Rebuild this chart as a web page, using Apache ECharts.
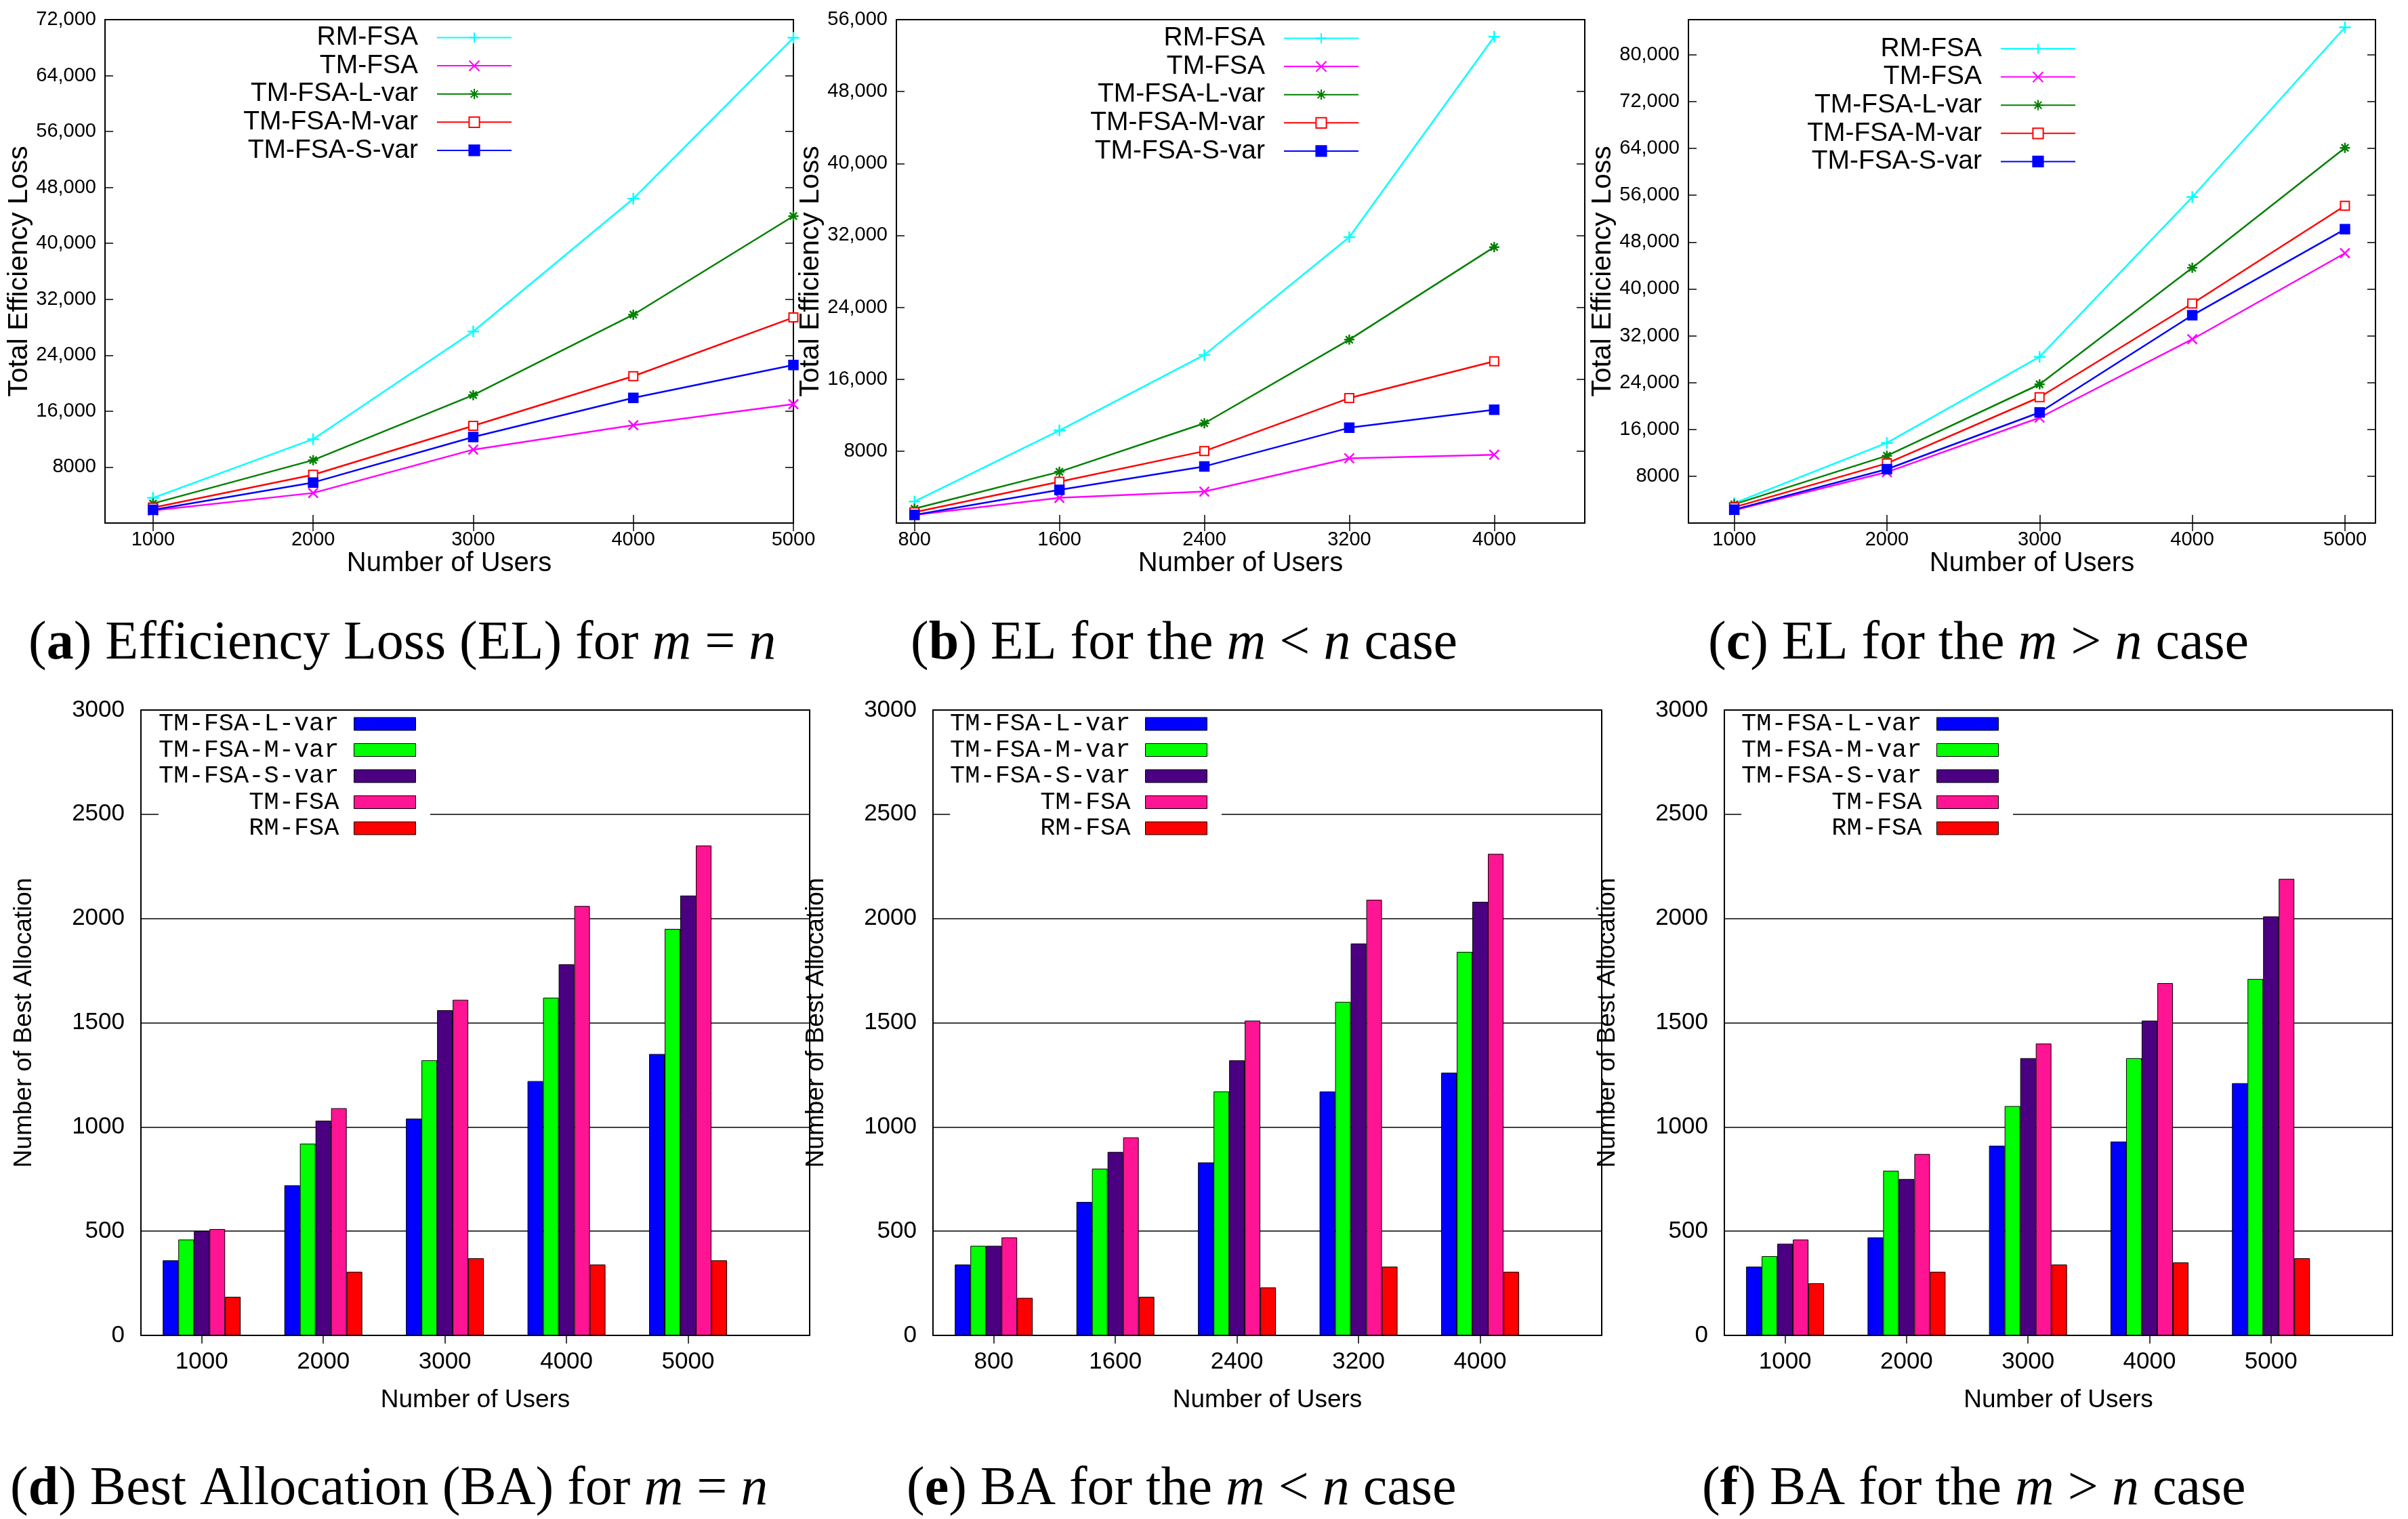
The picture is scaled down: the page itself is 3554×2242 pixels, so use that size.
<!DOCTYPE html>
<html><head><meta charset="utf-8">
<script src="https://cdn.jsdelivr.net/npm/echarts@6/dist/echarts.min.js"></script>
<style>html,body{margin:0;padding:0;background:#fff;} #c{width:3554px;height:2242px;}</style>
</head><body><div id="c"></div>
<script>
// ---------- DATA ----------
const usersA = [1000, 2000, 3000, 4000, 5000];
const usersB = [800, 1600, 2400, 3200, 4000];
const usersC = [1000, 2000, 3000, 4000, 5000];
const lineNames = ['RM-FSA', 'TM-FSA', 'TM-FSA-L-var', 'TM-FSA-M-var', 'TM-FSA-S-var'];

// (a) Efficiency loss, m = n
const elA_RM = [3600, 12000, 27400, 46400, 69400];
const elA_TM = [1800, 4300, 10500, 14000, 17000];
const elA_L  = [2800, 9000, 18300, 29800, 43900];
const elA_M  = [2200, 6900, 13900, 21000, 29400];
const elA_S  = [1900, 5800, 12300, 17900, 22600];
// (b) Efficiency loss, m < n
const elB_RM = [2400, 10300, 18700, 31800, 54100];
const elB_TM = [900, 2800, 3500, 7200, 7600];
const elB_L  = [1600, 5700, 11100, 20400, 30700];
const elB_M  = [1200, 4600, 8000, 13900, 18000];
const elB_S  = [900, 3700, 6300, 10600, 12600];
// (c) Efficiency loss, m > n
const elC_RM = [3400, 13700, 28400, 55700, 84700];
const elC_TM = [2200, 8700, 18000, 31400, 46100];
const elC_L  = [3200, 11500, 23700, 43600, 64100];
const elC_M  = [2700, 10200, 21500, 37500, 54200];
const elC_S  = [2300, 9200, 18900, 35500, 50200];

const yTicksA = [8000, 16000, 24000, 32000, 40000, 48000, 56000, 64000, 72000];
const yTicksB = [8000, 16000, 24000, 32000, 40000, 48000, 56000];
const yTicksC = [8000, 16000, 24000, 32000, 40000, 48000, 56000, 64000, 72000, 80000];

const barNames = ['TM-FSA-L-var', 'TM-FSA-M-var', 'TM-FSA-S-var', 'TM-FSA', 'RM-FSA'];
const catsD = ['1000', '2000', '3000', '4000', '5000'];
const catsE = ['800', '1600', '2400', '3200', '4000'];
const catsF = ['1000', '2000', '3000', '4000', '5000'];
// (d) Best allocation, m = n
const baD_L  = [360, 720, 1040, 1220, 1350];
const baD_M  = [460, 920, 1320, 1620, 1950];
const baD_S  = [500, 1030, 1560, 1780, 2110];
const baD_TM = [510, 1090, 1610, 2060, 2350];
const baD_RM = [185, 305, 370, 340, 360];
// (e) Best allocation, m < n
const baE_L  = [340, 640, 830, 1170, 1260];
const baE_M  = [430, 800, 1170, 1600, 1840];
const baE_S  = [430, 880, 1320, 1880, 2080];
const baE_TM = [470, 950, 1510, 2090, 2310];
const baE_RM = [180, 185, 230, 330, 305];
// (f) Best allocation, m > n
const baF_L  = [330, 470, 910, 930, 1210];
const baF_M  = [380, 790, 1100, 1330, 1710];
const baF_S  = [440, 750, 1330, 1510, 2010];
const baF_TM = [460, 870, 1400, 1690, 2190];
const baF_RM = [250, 305, 340, 350, 370];
const baTicks = [0, 500, 1000, 1500, 2000, 2500, 3000];

// ---------- STYLE ----------
const SANS = "'Liberation Sans', Arial, Helvetica, sans-serif";
const MONO = "'Liberation Mono', 'DejaVu Sans Mono', monospace";
const SERIF = "'Liberation Serif', 'Times New Roman', serif";
const lineColors = ['#00ffff', '#ff00ff', '#008000', '#ff0000', '#0000ff'];
const PLUS = 'path://M5,0L5,10M0,5L10,5';
const CROSS = 'path://M0,0L10,10M0,10L10,0';
const STAR = 'path://M5,0L5,10M0,5L10,5M1.5,1.5L8.5,8.5M1.5,8.5L8.5,1.5';
const lineSymbols = [PLUS, CROSS, STAR, 'emptyRect', 'rect'];
const lineSymbolSizes = [17, 14, 15, 13, 13];
const barColors = ['#0000ff', '#00ff00', '#4b0082', '#ff1493', '#ff0000'];

const W = 3554;
const grids = [], xAxes = [], yAxes = [], series = [], legends = [];
const fmtNum = v => v === 8000 ? '8000' : String(v).replace(/\B(?=(\d{3})+(?!\d))/g, ',');
const plain = v => String(v);
const strip = n => n.split('#')[1];

function addLineChart(key, box, xs, xmin, xmax, ymax, yTicks, vals, legendRight, legendTop) {
  const g = grids.length;
  grids.push({left: box[0], top: box[1], width: box[2], height: box[3], show: true,
    borderColor: '#000', borderWidth: 2, backgroundColor: 'transparent'});
  const tick = {inside: true, length: 12, lineStyle: {color: '#000', width: 1.5}};
  xAxes.push({gridIndex: g, type: 'value', position: 'bottom', min: xmin, max: xmax,
    axisLine: {show: false}, splitLine: {show: false},
    axisTick: Object.assign({customValues: xs}, tick),
    axisLabel: {customValues: xs, formatter: plain, fontFamily: SANS, fontSize: 29, color: '#000', margin: 10},
    name: 'Number of Users', nameLocation: 'middle', nameGap: 35,
    nameTextStyle: {fontFamily: SANS, fontSize: 40, color: '#000'}});
  xAxes.push({gridIndex: g, type: 'value', position: 'top', min: xmin, max: xmax,
    axisLine: {show: false}, splitLine: {show: false},
    axisTick: Object.assign({customValues: xs}, tick), axisLabel: {show: false}});
  yAxes.push({gridIndex: g, type: 'value', position: 'left', min: 0, max: ymax,
    axisLine: {show: false}, splitLine: {show: false},
    axisTick: Object.assign({customValues: yTicks}, tick),
    axisLabel: {customValues: yTicks, formatter: fmtNum, fontFamily: SANS, fontSize: 29, color: '#000', margin: 13},
    name: 'Total Efficiency Loss', nameLocation: 'middle', nameGap: 99,
    nameTextStyle: {fontFamily: SANS, fontSize: 41, color: '#000'}});
  yAxes.push({gridIndex: g, type: 'value', position: 'right', min: 0, max: ymax,
    axisLine: {show: false}, splitLine: {show: false},
    axisTick: Object.assign({customValues: yTicks}, tick), axisLabel: {show: false}});
  const names = [];
  lineNames.forEach((nm, k) => {
    const name = key + '#' + nm;
    names.push(name);
    series.push({type: 'line', name, xAxisIndex: 2 * g, yAxisIndex: 2 * g,
      data: xs.map((x, i) => [x, vals[k][i]]),
      symbol: lineSymbols[k], symbolSize: lineSymbolSizes[k], showSymbol: true,
      lineStyle: {color: lineColors[k], width: 2.5},
      itemStyle: {color: lineColors[k], borderColor: lineColors[k], borderWidth: 2.5},
      animation: false, z: 3});
  });
  legends.push({data: names, orient: 'vertical', align: 'right', right: legendRight, top: legendTop,
    itemWidth: 110, itemHeight: 19, itemGap: 1.6, padding: 0, selectedMode: false,
    formatter: strip,
    textStyle: {fontFamily: SANS, fontSize: 39, lineHeight: 40, color: '#000', padding: [0, 23, 0, 0]}});
}

function addBarChart(key, box, cats, vals, legendRight) {
  const g = grids.length;
  const idx = cats.map((c, i) => i);
  grids.push({left: box[0], top: box[1], width: box[2], height: box[3], show: true,
    borderColor: '#000', borderWidth: 2, backgroundColor: 'transparent'});
  const tick = {inside: true, length: 12, lineStyle: {color: '#000', width: 1.5}};
  xAxes.push({gridIndex: g, type: 'value', position: 'bottom', min: -0.5, max: 5,
    axisLine: {show: false}, splitLine: {show: false},
    axisTick: Object.assign({customValues: idx}, tick),
    axisLabel: {customValues: idx, formatter: v => cats[Math.round(v)], fontFamily: SANS, fontSize: 35, color: '#000', margin: 22},
    name: 'Number of Users', nameLocation: 'middle', nameGap: 77,
    nameTextStyle: {fontFamily: SANS, fontSize: 37, color: '#000'}});
  xAxes.push({gridIndex: g, type: 'value', position: 'top', min: -0.5, max: 5,
    axisLine: {show: false}, splitLine: {show: false},
    axisTick: Object.assign({customValues: idx}, tick), axisLabel: {show: false}});
  yAxes.push({gridIndex: g, type: 'value', position: 'left', min: 0, max: 3000, interval: 500,
    axisLine: {show: false}, axisTick: {show: false},
    splitLine: {show: true, lineStyle: {color: '#000', width: 1.5}},
    axisLabel: {customValues: baTicks, formatter: plain, fontFamily: SANS, fontSize: 35, color: '#000', margin: 24},
    name: 'Number of Best Allocation', nameLocation: 'middle', nameGap: 154,
    nameTextStyle: {fontFamily: SANS, fontSize: 37, color: '#000'}});
  yAxes.push({gridIndex: g, type: 'value', position: 'right', min: 0, max: 3000,
    axisLine: {show: false}, axisTick: {show: false}, splitLine: {show: false}, axisLabel: {show: false}});
  const names = [];
  barNames.forEach((nm, k) => {
    const name = key + '#' + nm;
    names.push(name);
    series.push({type: 'bar', name, xAxisIndex: 2 * g, yAxisIndex: 2 * g,
      data: vals[k].map((v, i) => [i, v]),
      barWidth: 23, barGap: '0%',
      itemStyle: {color: barColors[k], borderColor: '#000', borderWidth: 1},
      animation: false});
  });
  legends.push({data: names, orient: 'vertical', align: 'right', right: legendRight, top: 1050,
    itemWidth: 91, itemHeight: 19, itemGap: 1.5, padding: [0, 21, 0, 0], backgroundColor: '#fff',
    icon: 'rect', selectedMode: false, formatter: strip,
    itemStyle: {borderColor: '#000', borderWidth: 1},
    textStyle: {fontFamily: MONO, fontSize: 37, lineHeight: 36, color: '#000', padding: [0, 17, 0, 0]}});
}

addLineChart('a', [155, 29, 1016, 743], usersA, 700, 5000, 72000, yTicksA,
  [elA_RM, elA_TM, elA_L, elA_M, elA_S], W - 756, 35.5);
addLineChart('b', [1323, 29, 1016, 743], usersB, 700, 4500, 56000, yTicksB,
  [elB_RM, elB_TM, elB_L, elB_M, elB_S], W - 2006, 36.5);
addLineChart('c', [2492, 29, 1014, 743], usersC, 700, 5200, 86000, yTicksC,
  [elC_RM, elC_TM, elC_L, elC_M, elC_S], W - 3064, 52);
addBarChart('d', [208, 1048, 987, 923], catsD, [baD_L, baD_M, baD_S, baD_TM, baD_RM], W - 635);
addBarChart('e', [1377, 1048, 987, 923], catsE, [baE_L, baE_M, baE_S, baE_TM, baE_RM], W - 1803);
addBarChart('f', [2545, 1048, 986, 923], catsF, [baF_L, baF_M, baF_S, baF_TM, baF_RM], W - 2971);

const CF = 80;
const rich = {
  n: {fontFamily: SERIF, fontSize: CF, color: '#000'},
  b: {fontFamily: SERIF, fontSize: CF, color: '#000', fontWeight: 'bold'},
  i: {fontFamily: SERIF, fontSize: CF, color: '#000', fontStyle: 'italic'}
};
const captions = [
  {x: 42,   y: 951,  t: '{n|(}{b|a}{n|) Efficiency Loss (EL) for }{i|m}{n| = }{i|n}'},
  {x: 1344, y: 951,  t: '{n|(}{b|b}{n|) EL for the }{i|m}{n| < }{i|n}{n| case}'},
  {x: 2521, y: 951,  t: '{n|(}{b|c}{n|) EL for the }{i|m}{n| > }{i|n}{n| case}'},
  {x: 15,   y: 2199, t: '{n|(}{b|d}{n|) Best Allocation (BA) for }{i|m}{n| = }{i|n}'},
  {x: 1338, y: 2199, t: '{n|(}{b|e}{n|) BA for the }{i|m}{n| < }{i|n}{n| case}'},
  {x: 2512, y: 2199, t: '{n|(}{b|f}{n|) BA for the }{i|m}{n| > }{i|n}{n| case}'}
];

const chart = echarts.init(document.getElementById('c'), null, {renderer: 'canvas'});
chart.setOption({
  backgroundColor: '#fff',
  animation: false,
  grid: grids,
  xAxis: xAxes,
  yAxis: yAxes,
  legend: legends,
  series: series,
  graphic: captions.map(c => ({type: 'text', x: c.x, y: c.y,
    style: {text: c.t, rich: rich, fontFamily: SERIF, fontSize: CF, fill: '#000', align: 'left', verticalAlign: 'middle'}}))
});
</script>
</body></html>
